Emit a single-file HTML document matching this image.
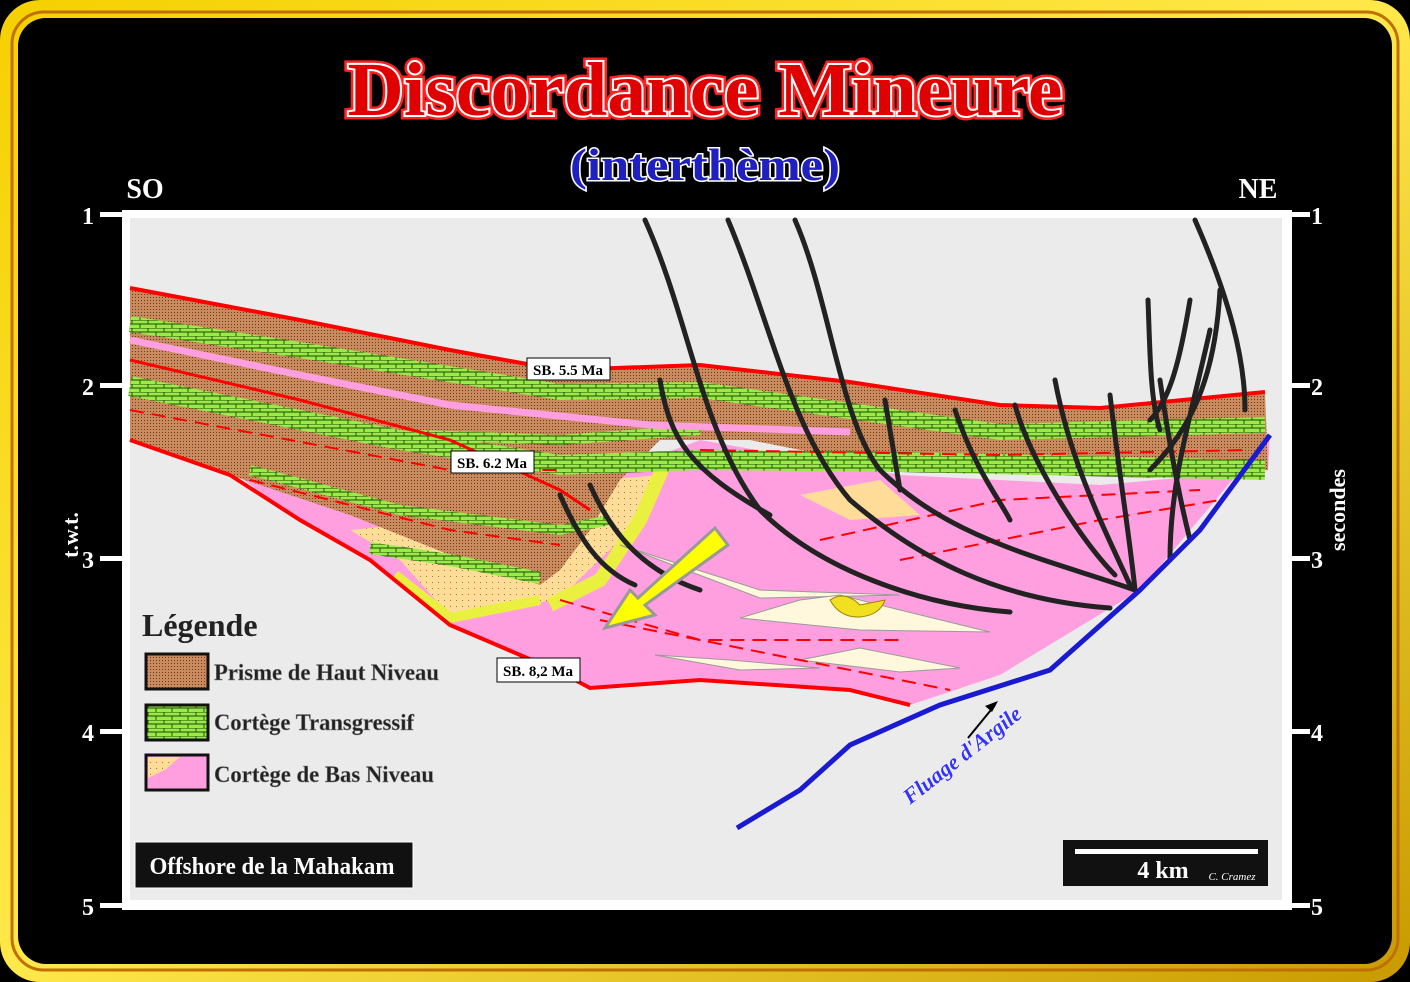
<!DOCTYPE html>
<html><head><meta charset="utf-8"><style>
html,body{margin:0;padding:0;background:#000;width:1410px;height:982px;overflow:hidden}
</style></head><body>
<svg width="1410" height="982" viewBox="0 0 1410 982" xmlns="http://www.w3.org/2000/svg">
<defs>
<linearGradient id="gold" x1="0" y1="0" x2="1" y2="1">
<stop offset="0" stop-color="#f5d000"/><stop offset="0.5" stop-color="#ffe84a"/><stop offset="1" stop-color="#c89a00"/>
</linearGradient>
<pattern id="brick" width="16" height="8" patternUnits="userSpaceOnUse">
<rect width="16" height="8" fill="#9bea4a"/>
<path d="M0 0H16M0 4H16M4 0V4M12 4V8" stroke="#1a4a00" stroke-width="0.9"/>
</pattern>
<pattern id="dots" width="3" height="3" patternUnits="userSpaceOnUse">
<rect width="3" height="3" fill="#c98a5e"/><rect width="1" height="1" fill="#6a3a20"/>
</pattern>
<pattern id="sand" width="6" height="6" patternUnits="userSpaceOnUse">
<rect width="6" height="6" fill="#ffdc98"/><rect width="1" height="1" fill="#9a7a40"/>
</pattern>
</defs>
<rect x="0" y="0" width="1410" height="982" rx="40" fill="url(#gold)"/>
<rect x="12" y="12" width="1386" height="958" rx="32" fill="none" stroke="#c07000" stroke-width="3"/>
<rect x="18" y="18" width="1374" height="946" rx="28" fill="#000"/>

<text x="705" y="115" text-anchor="middle" textLength="715" lengthAdjust="spacingAndGlyphs" font-family="Liberation Serif, serif" font-weight="bold" font-size="76" fill="#e00000" stroke="#ff2020" stroke-width="9" paint-order="stroke">Discordance Mineure</text>
<text x="705" y="115" text-anchor="middle" textLength="715" lengthAdjust="spacingAndGlyphs" font-family="Liberation Serif, serif" font-weight="bold" font-size="76" fill="#e00000" stroke="#fff" stroke-width="4" paint-order="stroke">Discordance Mineure</text>
<text x="705" y="180" text-anchor="middle" textLength="270" lengthAdjust="spacingAndGlyphs" font-family="Liberation Serif, serif" font-weight="bold" font-size="46" fill="#2020c0" stroke="#fff" stroke-width="3" paint-order="stroke">(interthème)</text>
<text x="145" y="198" text-anchor="middle" font-family="Liberation Serif, serif" font-weight="bold" font-size="28" fill="#fff">SO</text>
<text x="1258" y="198" text-anchor="middle" font-family="Liberation Serif, serif" font-weight="bold" font-size="28" fill="#fff">NE</text>

<rect x="122" y="210" width="1170" height="700" fill="#fff"/>
<rect x="130" y="218" width="1152" height="682" fill="#ebebeb"/>

<g fill="#fff" font-family="Liberation Serif, serif" font-weight="bold" font-size="24">
<rect x="100" y="212" width="22" height="5"/><rect x="100" y="383" width="22" height="5"/><rect x="100" y="556" width="22" height="5"/><rect x="100" y="729" width="22" height="5"/><rect x="100" y="903" width="22" height="5"/>
<rect x="1292" y="212" width="18" height="5"/><rect x="1292" y="383" width="18" height="5"/><rect x="1292" y="556" width="18" height="5"/><rect x="1292" y="729" width="18" height="5"/><rect x="1292" y="903" width="18" height="5"/>
<text x="88" y="224" text-anchor="middle">1</text><text x="88" y="395" text-anchor="middle">2</text><text x="88" y="568" text-anchor="middle">3</text><text x="88" y="741" text-anchor="middle">4</text><text x="88" y="915" text-anchor="middle">5</text>
<text x="1317" y="224" text-anchor="middle">1</text><text x="1317" y="395" text-anchor="middle">2</text><text x="1317" y="568" text-anchor="middle">3</text><text x="1317" y="741" text-anchor="middle">4</text><text x="1317" y="915" text-anchor="middle">5</text>
<text transform="translate(78,535) rotate(-90)" text-anchor="middle" font-size="22">t.w.t.</text>
<text transform="translate(1345,510) rotate(-90)" text-anchor="middle" font-size="22">secondes</text>
</g>

<!-- pink lowstand -->
<path d="M230,470 L300,520 L370,560 L450,625 L560,672 L590,688 L700,680 L850,690 L910,705 L1000,675 L1140,590 L1270,435 L1268,470 L1100,485 L900,475 L700,440 L620,470 L560,480 L400,475 Z" fill="#ff9fe0"/>
<!-- sand lowstand -->
<path d="M350,530 L400,560 L455,622 L560,598 L620,540 L660,475 L600,480 L560,530 L450,520 Z" fill="url(#sand)"/>
<path d="M662,470 L640,520 L600,580 L550,605" stroke="#eaf040" stroke-width="14" fill="none"/>
<path d="M395,575 L450,618 L540,600" stroke="#eaf040" stroke-width="10" fill="none"/>
<path d="M800,495 L880,480 L920,515 L850,520 Z" fill="#ffdc98"/>
<!-- lenses -->
<path d="M620,545 L760,590 L900,595 L760,598 Z" fill="#fff8dc" stroke="#999"/>
<path d="M740,618 L800,600 L840,595 L900,610 L990,632 L860,630 Z" fill="#fff8dc" stroke="#999"/>
<path d="M655,655 L730,660 L820,668 L740,670 Z" fill="#fff8dc" stroke="#999"/>
<path d="M800,660 L860,648 L960,668 L900,672 Z" fill="#fff8dc" stroke="#999"/>
<path d="M830,600 Q845,590 860,605 L885,600 Q880,615 860,617 Q840,618 830,600 Z" fill="#f0e020" stroke="#a08000"/>

<!-- layered stack -->
<path d="M130,288 L300,320 L450,350 L560,370 L700,365 L850,382 L1000,405 L1100,408 L1265,392 L1268,470 L1150,478 L900,470 L750,440 L660,440 L620,480 L590,530 L560,570 L540,585 L450,555 L350,515 L230,475 L130,440 Z" fill="url(#dots)"/>
<g fill="none" stroke="url(#brick)" stroke-linejoin="round">
<path d="M130,324 L300,350 L560,392 L700,390 L1000,432 L1265,425" stroke-width="16"/>
<path d="M130,386 L400,440 L560,465 L700,460 L900,462 L1265,470" stroke-width="20"/>
<path d="M420,435 L560,440 L700,430" stroke-width="10"/>
<path d="M370,548 L450,560 L540,578" stroke-width="12"/>
<path d="M250,470 L400,510 L560,530 L610,520" stroke-width="10"/>
</g>
<path d="M130,340 L300,375 L450,405 L650,425 L850,432" stroke="#ff9fe0" stroke-width="7" fill="none"/>
<path d="M130,288 L300,320 L450,350 L560,370 L700,365 L850,382 L1000,405 L1100,408 L1265,392" stroke="#f00" stroke-width="4" fill="none"/>
<path d="M130,440 L230,475 L300,520 L370,560 L450,625 L560,672 L590,688 L700,680 L850,690 L910,705" stroke="#f00" stroke-width="4" fill="none"/>
<path d="M130,360 L300,400 L450,440 L560,490 L590,510" stroke="#f00" stroke-width="3" fill="none"/>
<g stroke="#f00" stroke-width="2" fill="none" stroke-dasharray="14 8">
<path d="M560,600 L700,640 L900,640"/><path d="M600,620 L800,660 L950,690"/><path d="M900,560 L1100,520 L1220,500"/><path d="M820,540 L1000,500 L1200,490"/><path d="M130,410 L450,470 L560,470"/><path d="M700,450 L1000,455 L1250,450"/><path d="M250,480 L450,530 L560,545"/>
</g>

<!-- faults -->
<g stroke="#222" stroke-width="5" fill="none" stroke-linecap="round">
<path d="M645,220 C690,320 700,430 760,510 C820,570 920,605 1010,612"/>
<path d="M728,220 C770,320 790,430 850,500 C920,560 1000,600 1110,608"/>
<path d="M795,220 C830,300 840,420 880,470 C950,540 1050,560 1135,590"/>
<path d="M1195,220 C1230,300 1245,360 1245,410"/>
<path d="M1220,290 C1215,380 1190,430 1150,470"/>
<path d="M1190,300 C1180,360 1170,400 1150,420"/>
<path d="M1148,300 C1150,350 1150,400 1160,430"/>
<path d="M1210,330 C1190,420 1170,480 1170,560"/>
<path d="M1160,380 C1170,450 1180,500 1190,540"/>
<path d="M1110,395 C1120,480 1130,540 1135,590"/>
<path d="M1055,380 C1070,460 1100,520 1130,585"/>
<path d="M1015,405 C1030,460 1080,540 1115,575"/>
<path d="M955,410 C975,470 1000,500 1010,520"/>
<path d="M660,380 C670,440 690,470 770,515"/>
<path d="M560,495 C580,540 600,570 635,585"/>
<path d="M590,485 C610,530 640,570 700,590"/>
<path d="M885,400 L900,490"/>
</g>

<path d="M715,528 L728,545 L645,605 L655,615 L605,628 L630,590 L638,598 Z" fill="#ffff00" stroke="#999" stroke-width="3"/>

<path d="M737,828 L800,790 L850,745 L940,705 L1050,670 L1140,590 L1200,530 L1270,435" stroke="#1a1ad0" stroke-width="5" fill="none"/>
<path d="M968,738 L995,705" stroke="#000" stroke-width="2"/><path d="M998,701 L985,706 L992,712 Z" fill="#000"/>
<text transform="translate(910,805) rotate(-38)" font-family="Liberation Serif, serif" font-weight="bold" font-style="italic" font-size="22" fill="#3333ff" stroke="#fff" stroke-width="1" paint-order="stroke">Fluage d'Argile</text>

<g font-family="Liberation Serif, serif" font-weight="bold" font-size="15" fill="#000">
<rect x="527" y="358" width="83" height="22" fill="#fff" stroke="#000"/><text x="568" y="375" text-anchor="middle">SB. 5.5 Ma</text>
<rect x="451" y="451" width="83" height="22" fill="#fff" stroke="#000"/><text x="492" y="468" text-anchor="middle">SB. 6.2 Ma</text>
<rect x="497" y="658" width="83" height="24" fill="#fff" stroke="#000"/><text x="538" y="676" text-anchor="middle">SB. 8,2 Ma</text>
</g>

<text x="142" y="636" font-family="Liberation Serif, serif" font-weight="bold" font-size="32" fill="#222">Légende</text>
<rect x="146" y="654" width="62" height="35" fill="url(#dots)" stroke="#111" stroke-width="3"/>
<rect x="146" y="705" width="62" height="35" fill="url(#brick)" stroke="#111" stroke-width="3"/>
<rect x="146" y="755" width="62" height="35" fill="#ff9fe0" stroke="#111" stroke-width="3"/>
<path d="M148,757 L180,757 L165,770 L148,778 Z" fill="url(#sand)"/>
<g font-family="Liberation Serif, serif" font-weight="bold" font-size="23" fill="#222" stroke="#888" stroke-width="0.5">
<text x="214" y="680" textLength="225" lengthAdjust="spacingAndGlyphs">Prisme de Haut Niveau</text>
<text x="214" y="730" textLength="200" lengthAdjust="spacingAndGlyphs">Cortège Transgressif</text>
<text x="214" y="782" textLength="220" lengthAdjust="spacingAndGlyphs">Cortège de Bas Niveau</text>
</g>

<rect x="135" y="842" width="278" height="46" fill="#111" stroke="#fff" stroke-width="1"/>
<text x="272" y="874" text-anchor="middle" textLength="245" lengthAdjust="spacingAndGlyphs" font-family="Liberation Serif, serif" font-weight="bold" font-size="24" fill="#fff">Offshore  de la Mahakam</text>
<rect x="1063" y="840" width="205" height="46" fill="#111"/>
<rect x="1075" y="849" width="183" height="5" fill="#fff"/>
<text x="1163" y="878" text-anchor="middle" font-family="Liberation Serif, serif" font-weight="bold" font-size="24" fill="#fff">4 km</text>
<text x="1232" y="880" text-anchor="middle" font-family="Liberation Serif, serif" font-style="italic" font-size="11" fill="#fff">C. Cramez</text>
</svg>
</body></html>
